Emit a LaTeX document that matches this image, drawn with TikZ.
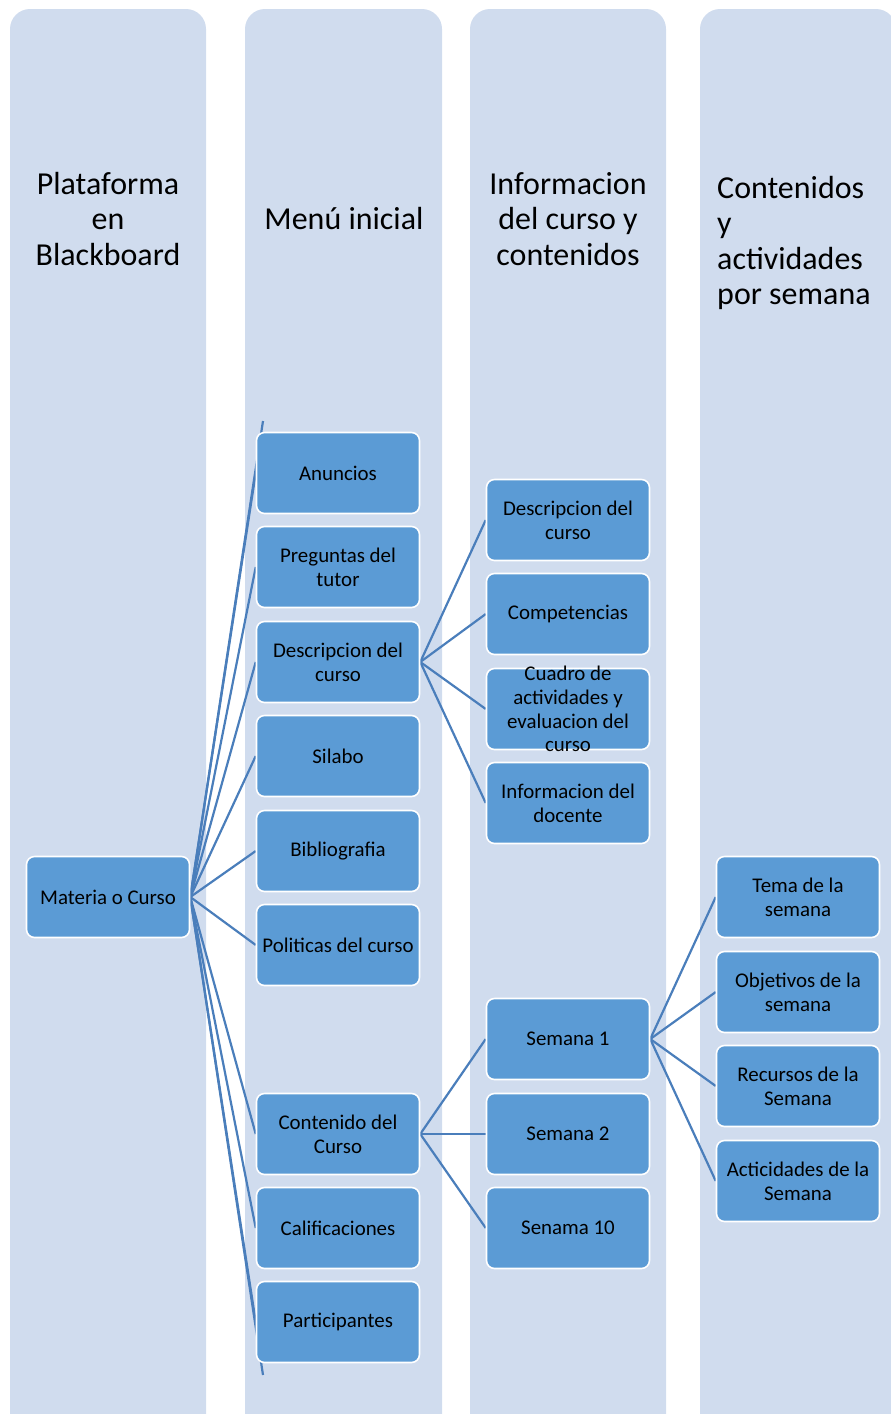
\documentclass[tikz,border=0pt]{standalone}
\usepackage{fontspec}
\setmainfont{Carlito}
\usetikzlibrary{positioning}
\definecolor{lanebg}{HTML}{D0DCEE}
\definecolor{boxfill}{HTML}{5B9BD5}
\definecolor{linkblue}{HTML}{4A7EBB}
\pgfdeclarelayer{lanes}
\pgfdeclarelayer{links}
\pgfsetlayers{lanes,links,main}

\begin{document}
\begin{tikzpicture}[x=0.02cm, y=-0.02cm,
    title/.style={align=center, font=\fontsize{18.2}{20.2}\selectfont},
    item/.style={draw=white, line width=0.9pt, fill=boxfill, rounded corners=0.16cm,
        minimum width=3.26cm, minimum height=1.62cm, align=center, inner sep=1pt,
        font=\fontsize{11.9}{13.6}\selectfont},
    itemtext/.style={align=center, inner sep=0pt, font=\fontsize{11.9}{13.5}\selectfont},
    link/.style={linkblue, line width=1.25pt}]

\useasboundingbox (0,0) rectangle (891,1414);
\clip (0,0) rectangle (891,1414);

% Lanes
\begin{pgfonlayer}{lanes}
\fill[lanebg] (10,1430) [rounded corners=0.4cm] -- (10,9) -- (206,9) [sharp corners] -- (206,1430) -- cycle;
\fill[lanebg] (245,1430) [rounded corners=0.4cm] -- (245,9) -- (442,9) [sharp corners] -- (442,1430) -- cycle;
\fill[lanebg] (470,1430) [rounded corners=0.4cm] -- (470,9) -- (666,9) [sharp corners] -- (666,1430) -- cycle;
\fill[lanebg] (700,1430) [rounded corners=0.4cm] -- (700,9) -- (896,9) [sharp corners] -- (896,1430) -- cycle;
\end{pgfonlayer}

% Lane titles
\node[title] (t1) at (108,219) {Plataforma\\en\\Blackboard};
\node[title] (t2) at (344,219) {Menú inicial};
\node[title] (t3) at (568,219) {Informacion\\del curso y\\contenidos};
\node[title, align=left, anchor=west] (t4) at (711,243) {Contenidos\\y\\actividades\\por semana};

% Course
\node[item] (materia) at (108,897) {Materia o Curso};

% Main menu
\node[item] (anuncios) at (338,473) {Anuncios};
\node[item] (preguntas) at (338,567) {Preguntas del\\tutor};
\node[item] (descripcion) at (338,662) {Descripcion del\\curso};
\node[item] (silabo) at (338,756) {Silabo};
\node[item] (biblio) at (338,851) {Bibliografia};
\node[item] (politicas) at (338,945) {Politicas del curso};
\node[item] (contenido) at (338,1134) {Contenido del\\Curso};
\node[item] (calif) at (338,1228) {Calificaciones};
\node[item] (particip) at (338,1322) {Participantes};
\coordinate (menutop) at (263,421);
\coordinate (menubot) at (263,1375);

% Course information
\node[item] (cdesc) at (568,520) {Descripcion del\\curso};
\node[item] (ccomp) at (568,614) {Competencias};
\node[item] (ccuadro) at (568,709) {};
\node[itemtext] (ccuadrotext) at (ccuadro) {Cuadro de\\actividades y\\evaluacion del\\curso};
\node[item] (cdocente) at (568,803) {Informacion del\\docente};

% Weeks
\node[item] (sem1) at (568,1039) {Semana 1};
\node[item] (sem2) at (568,1134) {Semana 2};
\node[item] (sem10) at (568,1228) {Senama 10};

% Week contents
\node[item] (tema) at (798,897) {Tema de la\\semana};
\node[item] (objet) at (798,992) {Objetivos de la\\semana};
\node[item] (recur) at (798,1086) {Recursos de la\\Semana};
\node[item] (activ) at (798,1181) {Acticidades de la\\Semana};

% Connectors
\begin{pgfonlayer}{links}
\foreach \n in {menutop,anuncios.west,preguntas.west,descripcion.west,silabo.west,biblio.west,politicas.west,contenido.west,calif.west,particip.west,menubot}
    \draw[link] (materia.east) -- (\n);
\foreach \n in {cdesc,ccomp,ccuadro,cdocente}
    \draw[link] (descripcion.east) -- (\n.west);
\foreach \n in {sem1,sem2,sem10}
    \draw[link] (contenido.east) -- (\n.west);
\foreach \n in {tema,objet,recur,activ}
    \draw[link] (sem1.east) -- (\n.west);
\end{pgfonlayer}
\end{tikzpicture}
\end{document}
